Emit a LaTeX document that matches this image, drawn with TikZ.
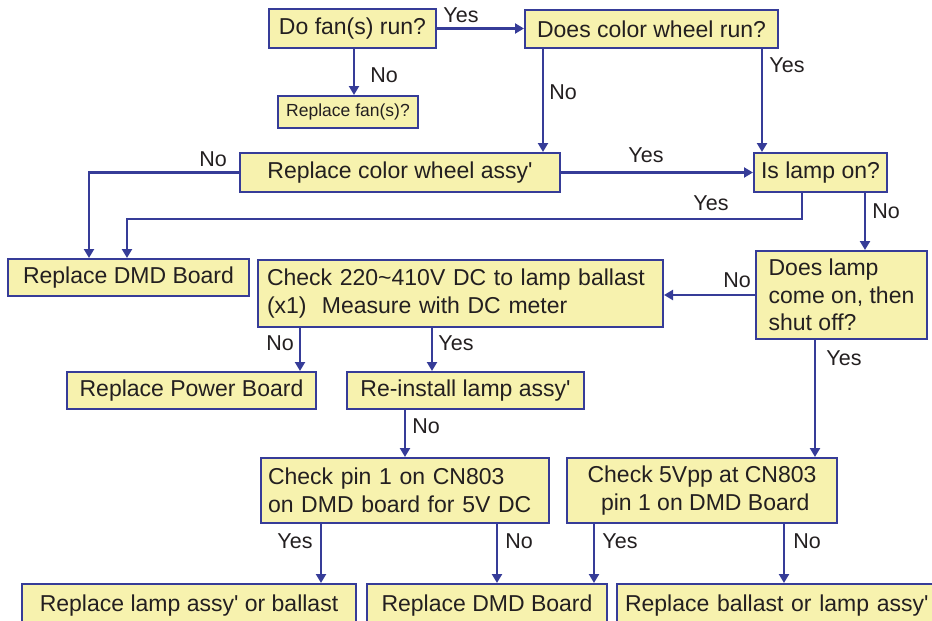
\documentclass[tikz,border=0pt]{standalone}
\usepackage{fontspec}
\setmainfont{Liberation Sans}[Ligatures=TeXOff]
\usetikzlibrary{arrows.meta}
\definecolor{boxfill}{RGB}{247,242,174}
\definecolor{boxline}{RGB}{54,60,152}
\definecolor{txt}{RGB}{35,31,32}
\tikzset{
  box/.style={draw=boxline, fill=boxfill, line width=2pt, inner sep=0pt, anchor=center,
    text=txt, font=\fontsize{23}{27.5}\selectfont, align=center},
  lbox/.style={box, align=left},
  lbl/.style={text=txt, font=\fontsize{21.5}{24}\selectfont, inner sep=0pt, anchor=center},
  arr/.style={draw=boxline, line width=2.3pt, -{Triangle[length=9pt,width=10pt]}},
}
\begin{document}
\begin{tikzpicture}[x=1pt,y=-1pt]
\useasboundingbox (0,0) rectangle (932,621);
% boxes
\node[box, minimum width=167pt, minimum height=39pt] (fan) at (352.5,28.5) {Do fan(s) run?};
\node[box, minimum width=140pt, minimum height=32pt, font=\fontsize{17.5}{20}\selectfont] (fans) at (348,112) {Replace fan(s)?};
\node[box, minimum width=253pt, minimum height=38pt] (cw) at (651.5,29) {Does color wheel run?};
\node[box, minimum width=320pt, minimum height=39pt] (rcw) at (400,172.5) {Replace color wheel assy'};
\node[box, minimum width=133pt, minimum height=39pt] (lamp) at (820.5,172.5) {Is lamp on?};
\node[box, minimum width=241pt, minimum height=37pt] (dmd1) at (128.5,277.5) {Replace DMD Board};
\node[lbox, minimum width=405pt, minimum height=67pt, text width=387pt] (chk) at (460.5,293.5) {Check 220\char`~410V DC to lamp ballast\\(x1)\ \ Measure with DC meter};
\node[lbox, minimum width=171pt, minimum height=88pt] (dl) at (841.5,295) {Does lamp\\come on, then\\shut off?};
\node[box, minimum width=249pt, minimum height=37pt] (pwr) at (191.5,390.5) {Replace Power Board};
\node[box, minimum width=237pt, minimum height=37pt] (rein) at (465.5,390.5) {Re-install lamp assy'};
\node[lbox, minimum width=288pt, minimum height=65pt, text width=274pt] (pin) at (405,490.5) {Check pin 1 on CN803\\on DMD board for 5V DC};
\node[box, minimum width=270pt, minimum height=65pt] (vpp) at (702,490.5) {Check 5Vpp at CN803\\\ pin 1 on DMD Board};
\node[box, minimum width=334pt, minimum height=44pt] (b1) at (189,606) {Replace lamp assy' or ballast};
\node[box, minimum width=240pt, minimum height=44pt] (b2) at (487,606) {Replace DMD Board};
\node[box, minimum width=320pt, minimum height=44pt, text width=304pt, align=left] (b3) at (777,606) {Replace ballast or lamp assy'};
% x / y guides
\coordinate (x89) at (89,0);
\coordinate (x127) at (127,0);
\coordinate (x300) at (300,0);
\coordinate (x321) at (321,0);
\coordinate (x354) at (354,0);
\coordinate (x405) at (405,0);
\coordinate (x432) at (432,0);
\coordinate (x497) at (497,0);
\coordinate (x543) at (543,0);
\coordinate (x594) at (594,0);
\coordinate (x762) at (762,0);
\coordinate (x784) at (784,0);
\coordinate (x802) at (802,0);
\coordinate (x815) at (815,0);
\coordinate (x865) at (865,0);
\coordinate (y219) at (0,219);
\coordinate (y295) at (0,295);
% connectors
\draw[arr] (fan.south -| x354) -- (fans.north -| x354);
\draw[arr] (fan.east) -- (fan.east -| cw.west);
\draw[arr] (cw.south -| x543) -- (rcw.north -| x543);
\draw[arr] (cw.south -| x762) -- (lamp.north -| x762);
\draw[arr] (rcw.east) -- (lamp.west);
\draw[arr] (rcw.west) -| (dmd1.north -| x89);
\draw[arr] (lamp.south -| x802) |- (x127 |- y219) -- (dmd1.north -| x127);
\draw[arr] (lamp.south -| x865) -- (dl.north -| x865);
\draw[arr] (dl.west |- y295) -- (chk.east |- y295);
\draw[arr] (chk.south -| x300) -- (pwr.north -| x300);
\draw[arr] (chk.south -| x432) -- (rein.north -| x432);
\draw[arr] (rein.south -| x405) -- (pin.north -| x405);
\draw[arr] (dl.south -| x815) -- (vpp.north -| x815);
\draw[arr] (pin.south -| x321) -- (b1.north -| x321);
\draw[arr] (pin.south -| x497) -- (b2.north -| x497);
\draw[arr] (vpp.south -| x594) -- (b2.north -| x594);
\draw[arr] (vpp.south -| x784) -- (b3.north -| x784);
% labels
\node[lbl] (l1) at (461,15) {Yes};
\node[lbl] (l2) at (384,75) {No};
\node[lbl] (l3) at (563,92) {No};
\node[lbl] (l4) at (787,65) {Yes};
\node[lbl] (l5) at (646,155) {Yes};
\node[lbl] (l6) at (213,159) {No};
\node[lbl] (l7) at (711,203) {Yes};
\node[lbl] (l8) at (886,211) {No};
\node[lbl] (l9) at (737,280) {No};
\node[lbl] (l10) at (280,343) {No};
\node[lbl] (l11) at (456,343) {Yes};
\node[lbl] (l12) at (426,426) {No};
\node[lbl] (l13) at (844,358) {Yes};
\node[lbl] (l14) at (295,541) {Yes};
\node[lbl] (l15) at (519,541) {No};
\node[lbl] (l16) at (620,541) {Yes};
\node[lbl] (l17) at (807,541) {No};
\end{tikzpicture}
\end{document}
